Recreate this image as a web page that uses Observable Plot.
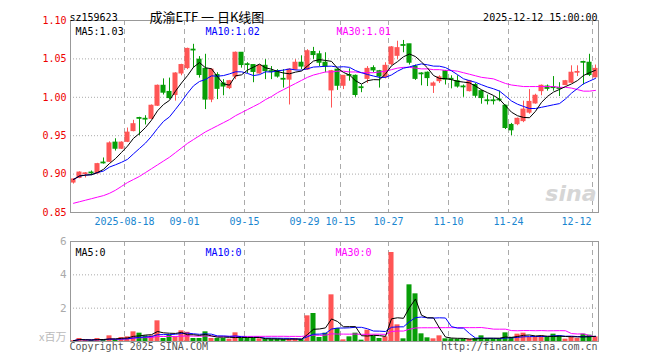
<!DOCTYPE html>
<html><head><meta charset="utf-8">
<script src="https://cdn.jsdelivr.net/npm/d3@7"></script>
<script src="https://cdn.jsdelivr.net/npm/@observablehq/plot@0.6"></script>
<style>
html,body{margin:0;padding:0;background:#fff;}
#chart{position:relative;width:660px;height:360px;overflow:hidden;background:#fff;}
#chart svg{position:absolute;left:0;}
</style></head><body><div id="chart"></div>
<script>
// ---- data ----
const dates = [
"2025-08-05","2025-08-06","2025-08-07","2025-08-08","2025-08-11","2025-08-12","2025-08-13","2025-08-14","2025-08-15",
"2025-08-18","2025-08-19","2025-08-20","2025-08-21","2025-08-22","2025-08-25","2025-08-26","2025-08-27","2025-08-28","2025-08-29",
"2025-09-01","2025-09-02","2025-09-03","2025-09-04","2025-09-05","2025-09-08","2025-09-09","2025-09-10","2025-09-11","2025-09-12",
"2025-09-15","2025-09-16","2025-09-17","2025-09-18","2025-09-19","2025-09-22","2025-09-23","2025-09-24","2025-09-25","2025-09-26",
"2025-09-29","2025-09-30","2025-10-09","2025-10-10","2025-10-13","2025-10-14","2025-10-15","2025-10-16","2025-10-17","2025-10-20",
"2025-10-21","2025-10-22","2025-10-23","2025-10-24","2025-10-27","2025-10-28","2025-10-29","2025-10-30","2025-10-31",
"2025-11-03","2025-11-04","2025-11-05","2025-11-06","2025-11-07","2025-11-10","2025-11-11","2025-11-12","2025-11-13","2025-11-14",
"2025-11-17","2025-11-18","2025-11-19","2025-11-20","2025-11-21","2025-11-24","2025-11-25","2025-11-26","2025-11-27","2025-11-28",
"2025-12-01","2025-12-02","2025-12-03","2025-12-04","2025-12-05","2025-12-08","2025-12-09","2025-12-10","2025-12-11","2025-12-12"];

const open = [0.889,0.895,0.900,0.902,0.901,0.915,0.916,0.941,0.933,
0.942,0.956,0.973,0.972,0.972,0.989,1.015,1.007,1.003,1.031,
1.038,1.062,1.049,1.037,0.997,1.029,1.018,1.012,1.027,1.058,
1.043,1.042,1.031,1.041,1.034,1.034,1.024,1.023,1.036,1.045,
1.036,1.059,1.056,1.045,1.009,1.036,1.015,1.029,1.028,1.013,
1.024,1.038,1.034,1.026,1.043,1.054,1.068,1.069,1.040,
1.031,1.032,1.015,1.021,1.034,1.024,1.021,1.014,1.008,1.016,
1.008,0.996,0.996,0.997,0.989,0.964,0.965,0.969,0.980,0.992,
1.008,1.014,1.013,1.012,1.016,1.019,1.032,1.046,1.045,1.026];

const high = [0.894,0.903,0.902,0.904,0.914,0.921,0.942,0.946,0.942,
0.960,0.970,0.974,0.976,0.990,1.016,1.024,1.025,1.032,1.043,
1.064,1.069,1.053,1.056,1.037,1.032,1.023,1.022,1.059,1.058,
1.045,1.042,1.042,1.049,1.040,1.036,1.036,1.037,1.049,1.054,
1.062,1.065,1.060,1.058,1.035,1.037,1.028,1.037,1.029,1.016,
1.040,1.041,1.035,1.045,1.066,1.073,1.074,1.069,1.042,
1.032,1.033,1.020,1.028,1.035,1.028,1.028,1.016,1.022,1.018,
1.009,1.003,1.001,1.008,0.990,0.966,0.973,0.995,1.010,1.004,
1.016,1.016,1.027,1.019,1.022,1.041,1.041,1.047,1.056,1.042];

const low = [0.887,0.894,0.895,0.898,0.900,0.913,0.915,0.930,0.932,
0.941,0.955,0.950,0.964,0.971,0.988,1.003,0.997,0.995,1.028,
1.036,1.038,1.025,0.984,0.993,0.997,1.002,1.010,1.023,1.038,
1.031,1.019,1.030,1.023,1.023,1.025,1.012,0.990,1.035,1.036,
1.035,1.049,1.040,1.032,0.986,1.009,1.010,1.021,1.000,1.006,
1.018,1.032,1.012,1.024,1.041,1.049,1.058,1.042,1.022,
1.015,1.014,1.005,1.018,1.016,1.011,1.012,1.000,1.007,0.999,
0.991,0.990,0.990,0.994,0.958,0.950,0.963,0.967,0.978,0.991,
1.002,1.008,1.008,1.001,1.015,1.018,1.027,1.016,1.027,1.025];

const close = [0.893,0.902,0.901,0.901,0.913,0.914,0.940,0.933,0.941,
0.954,0.965,0.972,0.971,0.989,1.015,1.006,0.999,1.031,1.042,
1.063,1.061,1.029,0.997,1.036,1.011,1.014,1.021,1.058,1.042,
1.042,1.033,1.041,1.034,1.033,1.027,1.023,1.036,1.045,1.040,
1.060,1.055,1.045,1.040,1.034,1.015,1.028,1.028,1.003,1.012,
1.037,1.035,1.027,1.041,1.065,1.064,1.067,1.045,1.024,
1.030,1.025,1.018,1.026,1.023,1.023,1.014,1.013,1.021,1.002,
0.999,0.995,0.995,0.996,0.960,0.957,0.972,0.984,0.994,1.002,
1.015,1.011,1.012,1.011,1.021,1.032,1.033,1.045,1.029,1.037];

// 30-day moving average as drawn (includes history before the window)
const ma30 = [0.862,0.864,0.866,0.868,0.870,0.872,0.875,0.879,0.884,
0.889,0.893,0.897,0.902,0.907,0.912,0.917,0.922,0.928,0.934,
0.940,0.945,0.950,0.955,0.959,0.963,0.967,0.971,0.976,0.980,
0.984,0.988,0.992,0.997,1.001,1.006,1.010,1.014,1.018,1.022,
1.026,1.029,1.031,1.033,1.033,1.034,1.034,1.033,1.033,1.032,
1.032,1.032,1.033,1.034,1.036,1.038,1.039,1.039,1.038,
1.037,1.037,1.036,1.036,1.035,1.035,1.034,1.032,1.030,1.028,
1.026,1.025,1.024,1.021,1.018,1.016,1.015,1.014,1.014,1.014,
1.014,1.014,1.014,1.013,1.013,1.012,1.010,1.008,1.008,1.009];

// volume, millions
const volume = [0.05,0.18,0.08,0.06,0.18,0.10,0.34,0.10,0.24,
0.28,0.58,0.50,0.34,0.34,1.24,0.18,0.38,0.28,0.64,
0.55,0.18,0.18,0.58,0.18,0.18,0.18,0.14,0.52,0.18,
0.18,0.18,0.16,0.14,0.14,0.14,0.12,0.14,0.18,0.12,
1.54,1.68,0.24,0.50,2.80,0.78,0.10,0.28,0.50,0.08,
0.68,0.32,0.18,0.28,5.34,1.00,0.16,3.40,2.86,
0.46,0.22,0.16,0.34,0.16,0.16,0.14,0.14,0.14,0.18,
0.34,0.18,0.14,0.16,0.52,0.24,0.44,0.50,0.24,0.24,
0.34,0.24,0.44,0.34,0.14,0.28,0.18,0.44,0.38,0.28];

const tickDates = ["2025-08-18","2025-09-01","2025-09-15","2025-09-29","2025-10-15","2025-10-27","2025-11-10","2025-11-24","2025-12-12"];
const tickLabels = ["2025-08-18","09-01","09-15","09-29","10-15","10-27","11-10","11-24","12-12"];
const priceTicks = [0.85,0.90,0.95,1.00,1.05,1.10];
const volTicks = [2,4,6];

// ---- build ----
const RED = "#ff5555", GREEN = "#079e07", GRID = "#aaaaaa", FRAME = "#999999";
const FONT = "DejaVu Sans Mono, monospace";
const rows = dates.map((d,i)=>({i, date:d, open:open[i], high:high[i], low:low[i], close:close[i],
  volume:volume[i], ma30:ma30[i], col: close[i] >= open[i] ? RED : GREEN}));
const ticks = tickDates.map((d,k)=>({x: dates.indexOf(d) - 0.5, label: tickLabels[k]}));
const xDomain = [-0.5, dates.length - 0.5];
const dotted = {stroke: GRID, strokeDasharray: "1,2"};
const dashed = {stroke: GRID, strokeDasharray: "5,4"};

const price = Plot.plot({
  width: 660, height: 232, marginTop: 20, marginBottom: 20, marginLeft: 70, marginRight: 62,
  x: {domain: xDomain, axis: null},
  y: {domain: [0.85, 1.10], axis: null},
  color: {type: "identity"},
  style: {fontFamily: FONT, fontSize: "10px", background: "transparent"},
  marks: [
    Plot.ruleY(priceTicks.slice(1, -1), dotted),
    Plot.ruleX(ticks, {x: "x", ...dashed}),
    Plot.text(["sina"], {text: d=>d, frameAnchor: "bottom-right", dx: -2, dy: -12, fontSize: 22,
      fontStyle: "italic", fontWeight: "bold", fill: "#d6d6d6", fontFamily: "DejaVu Sans"}),
    Plot.ruleX(rows, {x: "i", y1: "low", y2: "high", stroke: "col"}),
    Plot.rect(rows, {x1: d=>d.i - 0.42, x2: d=>d.i + 0.42,
      y1: d=>Math.min(d.open, d.close), y2: d=>Math.max(d.open, d.close),
      fill: "col", insetTop: -0.5, insetBottom: -0.5}),
    Plot.lineY(rows, {x: "i", y: "ma30", stroke: "#ff00ff", strokeWidth: 1}),
    Plot.lineY(rows, Plot.windowY({k: 10, anchor: "end", strict: false}, {x: "i", y: "close", stroke: "#0000ff", strokeWidth: 1})),
    Plot.lineY(rows, Plot.windowY({k: 5, anchor: "end", strict: false}, {x: "i", y: "close", stroke: "#000000", strokeWidth: 1})),
    Plot.frame({stroke: FRAME}),
    Plot.text(priceTicks, {y: d=>d, text: d=>d.toFixed(2), frameAnchor: "left", dx: -4, textAnchor: "end", fill: "#ee0000"}),
    Plot.text(ticks.slice(0, -1), {x: "x", text: "label", frameAnchor: "bottom", dy: 5, lineAnchor: "top", fill: "#1a86d0"}),
    Plot.text(ticks.slice(-1), {x: "x", text: "label", frameAnchor: "bottom", dy: 5, dx: -1, lineAnchor: "top", textAnchor: "end", fill: "#1a86d0"}),
    Plot.text(["MA5:1.03"], {text: d=>d, frameAnchor: "top-left", dx: 5, dy: 7, textAnchor: "start", fill: "#000"}),
    Plot.text(["MA10:1.02"], {text: d=>d, frameAnchor: "top-left", dx: 135, dy: 7, textAnchor: "start", fill: "#0000ff"}),
    Plot.text(["MA30:1.01"], {text: d=>d, frameAnchor: "top-left", dx: 266, dy: 7, textAnchor: "start", fill: "#ff00ff"}),
    Plot.text(["sz159623"], {text: d=>d, frameAnchor: "top-left", dx: -1, dy: -7, textAnchor: "start", fill: "#000"}),
    Plot.text(["成渝ETF 一 日K线图"], {text: d=>d, frameAnchor: "top-left", dx: 79, dy: -8, textAnchor: "start", fill: "#000",
      fontSize: 13, fontFamily: "Noto Sans CJK SC, sans-serif", style: "white-space:pre"}),
    Plot.text(["2025-12-12 15:00:00"], {text: d=>d, frameAnchor: "top-right", dx: -1, dy: -7, textAnchor: "end", fill: "#000"})
  ]
});
price.style.top = "0px";

const vol = Plot.plot({
  width: 660, height: 128, marginTop: 9, marginBottom: 19, marginLeft: 70, marginRight: 62,
  x: {domain: xDomain, axis: null},
  y: {domain: [0, 6], axis: null},
  color: {type: "identity"},
  style: {fontFamily: FONT, fontSize: "10px", background: "transparent"},
  marks: [
    Plot.ruleY([2, 4], dotted),
    Plot.ruleX(ticks, {x: "x", ...dashed}),
    Plot.rect(rows, {x1: d=>d.i - 0.42, x2: d=>d.i + 0.42, y1: 0, y2: "volume", fill: "col"}),
    Plot.lineY(rows, Plot.windowY({k: 30, anchor: "end", strict: false}, {x: "i", y: "volume", stroke: "#ff00ff", strokeWidth: 1})),
    Plot.lineY(rows, Plot.windowY({k: 10, anchor: "end", strict: false}, {x: "i", y: "volume", stroke: "#0000ff", strokeWidth: 1})),
    Plot.lineY(rows, Plot.windowY({k: 5, anchor: "end", strict: false}, {x: "i", y: "volume", stroke: "#000000", strokeWidth: 1})),
    Plot.frame({stroke: FRAME}),
    Plot.text(volTicks, {y: d=>d, text: d=>String(d), frameAnchor: "left", dx: -4, textAnchor: "end", fill: "#aaaaaa", fontSize: 11}),
    Plot.text(["x百万"], {text: d=>d, frameAnchor: "bottom-left", dx: -4, dy: -1, textAnchor: "end", fill: "#bbbbbb",
      fontFamily: "Noto Sans CJK SC, sans-serif", fontSize: 11}),
    Plot.text(["MA5:0"], {text: d=>d, frameAnchor: "top-left", dx: 5, dy: 7, textAnchor: "start", fill: "#000"}),
    Plot.text(["MA10:0"], {text: d=>d, frameAnchor: "top-left", dx: 135, dy: 7, textAnchor: "start", fill: "#0000ff"}),
    Plot.text(["MA30:0"], {text: d=>d, frameAnchor: "top-left", dx: 265, dy: 7, textAnchor: "start", fill: "#ff00ff"}),
    Plot.text(["Copyright 2025 SINA.COM"], {text: d=>d, frameAnchor: "bottom-left", dx: -1, dy: 1, lineAnchor: "top", textAnchor: "start", fill: "#555"}),
    Plot.text(["http://finance.sina.com.cn"], {text: d=>d, frameAnchor: "bottom-right", dx: -1, dy: 1, lineAnchor: "top", textAnchor: "end", fill: "#555"})
  ]
});
vol.style.top = "232px";

const host = document.getElementById("chart");
host.append(price, vol);
</script>
</body></html>
